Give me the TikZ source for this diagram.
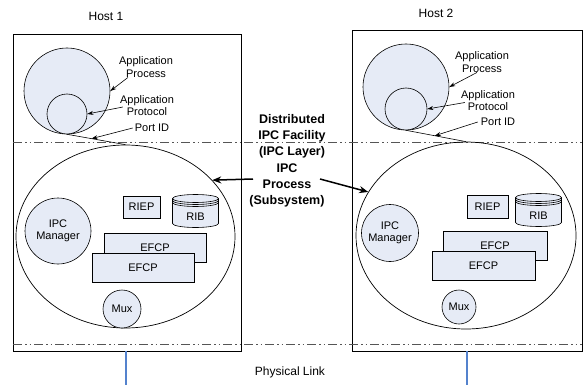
\documentclass[tikz,border=0pt]{standalone}
\usepackage{fontspec}
\setmainfont{Liberation Sans}
\usetikzlibrary{arrows.meta,calc,shapes.geometric}
\definecolor{boxfill}{RGB}{230,235,246}
\definecolor{linkblue}{RGB}{84,130,205}
\definecolor{dashgray}{RGB}{85,85,85}
\begin{document}
\begin{tikzpicture}[x=1pt,y=-1pt,
  lbl/.style={font=\fontsize{11}{12.5}\selectfont, align=center, inner sep=0pt},
  biglbl/.style={font=\fontsize{12}{14}\selectfont, inner sep=0pt},
  boldlbl/.style={font=\fontsize{12.5}{16}\selectfont\bfseries, align=center, inner sep=0pt},
  comp/.style={draw, fill=boxfill, line width=0.6pt, font=\fontsize{11}{12.5}\selectfont, align=center, inner sep=0pt},
  circ/.style={comp, circle},
  rectbox/.style={comp, rectangle},
  ipcell/.style={draw, ellipse, line width=0.7pt, inner sep=0pt},
  ptr/.style={-{Stealth[length=6pt,width=4pt]}, line width=0.6pt},
  bigptr/.style={-{Stealth[length=9pt,width=7pt]}, line width=1.5pt},
  layer/.style={dashgray, line width=0.9pt, dash pattern=on 9pt off 3pt on 1.5pt off 3pt on 1.5pt off 3pt},
  hostbox/.style={draw, line width=0.8pt, inner sep=0pt},
  linkline/.style={linkblue, line width=1.2pt},
  ribcyl/.pic={
    \path[fill=boxfill, draw, line width=0.6pt] (-23pt,12.5pt) -- (-23pt,-12.5pt)
      arc[start angle=180, end angle=360, x radius=23pt, y radius=4pt]
      -- (23pt,12.5pt)
      arc[start angle=0, end angle=180, x radius=23pt, y radius=4pt] -- cycle;
    \draw[line width=0.6pt] (-23pt,12.5pt) arc[start angle=180, end angle=360, x radius=23pt, y radius=4pt];
    \draw[line width=0.6pt] (-23pt,10.5pt) arc[start angle=180, end angle=360, x radius=23pt, y radius=4pt];
    \draw[line width=0.6pt] (-23pt,8.5pt) arc[start angle=180, end angle=360, x radius=23pt, y radius=4pt];
    \node[lbl] (-t) at (0pt,-6pt) {RIB};
  }
]
\useasboundingbox (0,0) rectangle (585,385);

% hosts
\node[hostbox, minimum width=228, minimum height=317] (h1) at (127,192.5) {};
\node[hostbox, minimum width=230, minimum height=321] (h2) at (467,190.5) {};
\node[biglbl] (host1) at (106,16) {Host 1};
\node[biglbl] (host2) at (436,13) {Host 2};

% layer boundaries
\coordinate (tl) at (13,142);
\coordinate (tr) at (582,142);
\coordinate (bl) at (13,344);
\coordinate (br) at (582,344);
\draw[layer] (tl) -- (tr);
\draw[layer] (bl) -- (br);

% IPC process ellipses
\node[ipcell, minimum width=219, minimum height=183] (ipc1) at (125.5,236.5) {};
\node[ipcell, minimum width=220, minimum height=187] (ipc2) at (466,235.5) {};

% application processes
\node[circ, minimum size=86] (ap1) at (67,91) {};
\node[circ, minimum size=40] (pr1) at (67,114) {};
\node[circ, minimum size=86] (ap2) at (406,87) {};
\node[circ, minimum size=42] (pr2) at (406,109) {};

% port lines
\draw[line width=0.6pt] (ap1.south) -- coordinate[pos=0.42] (pt1) (ipc1.north);
\draw[line width=0.6pt] (ap2.south) -- coordinate[pos=0.48] (pt2) (ipc2.north);

% labels host 1
\node[lbl] (lap1) at (146,67) {Application\\Process};
\node[lbl] (lpr1) at (147,105.5) {Application\\Protocol};
\node[lbl] (lpid1) at (152,128) {Port ID};
\draw[ptr] ($(lap1.south west)+(9,0)$) -- (ap1.east);
\draw[ptr] ($(lpr1.west)+(3,1.5)$) -- (pr1.east);
\draw[ptr] ($(lpid1.west)+(-2,0)$) -- (pt1);

% labels host 2
\node[lbl] (lap2) at (482,62) {Application\\Process};
\node[lbl] (lpr2) at (488,100.5) {Application\\Protocol};
\node[lbl] (lpid2) at (498,122) {Port ID};
\draw[ptr] ($(lap2.south west)+(22,0)$) -- (ap2.east);
\draw[ptr] ($(lpr2.west)+(4,2)$) -- (pr2.east);
\draw[ptr] ($(lpid2.west)+(-3,0)$) -- (pt2);

% middle labels
\node[boldlbl] (dif) at (292,136) {Distributed\\IPC Facility\\(IPC Layer)};
\node[boldlbl] (ipcp) at (287,185) {IPC\\Process\\(Subsystem)};
\draw[bigptr] ($(ipcp.center)+(-34,-6)$) -- (ipc1.33);
\draw[bigptr] ($(ipcp.center)+(33,-6)$) -- (ipc2.156.5);

% host 1 components
\node[circ, minimum size=66] (mgr1) at (58,231) {IPC\\Manager};
\node[rectbox, minimum width=37, minimum height=22] (riep1) at (141.5,207) {RIEP};
\pic (rib1) at (195.5,211) {ribcyl};
\node[rectbox, minimum width=102, minimum height=29] (efb1) at (155,247.5) {EFCP};
\node[rectbox, minimum width=102, minimum height=29] (eff1) at (143,267.5) {EFCP};
\node[circ, minimum size=38] (mux1) at (122,309) {Mux};

% host 2 components
\node[circ, minimum size=57] (mgr2) at (390,233) {IPC\\Manager};
\node[rectbox, minimum width=41, minimum height=23] (riep2) at (487.5,206.5) {RIEP};
\pic (rib2) at (538.5,210) {ribcyl};
\node[rectbox, minimum width=104, minimum height=29] (efb2) at (495,245.5) {EFCP};
\node[rectbox, minimum width=103, minimum height=29] (eff2) at (483.5,265.5) {EFCP};
\node[circ, minimum size=34] (mux2) at (459,307) {Mux};

% physical link
\coordinate (e1) at (126,385);
\coordinate (e2) at (467,385);
\draw[linkline] (e1 |- h1.south) -- (e1);
\draw[linkline] (e2 |- h2.south) -- (e2);
\node[biglbl] (pl) at (290,372) {Physical Link};
\end{tikzpicture}
\end{document}
